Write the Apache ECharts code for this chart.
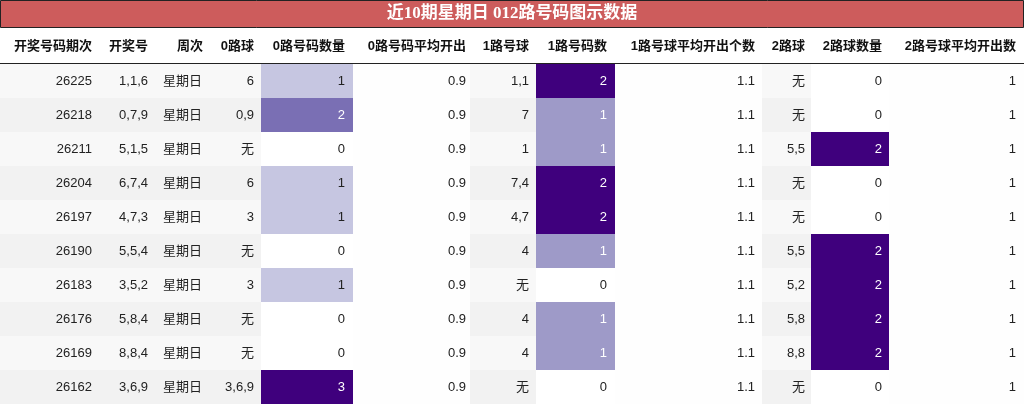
<!DOCTYPE html>
<html><head><meta charset="utf-8">
<script src="https://cdn.jsdelivr.net/npm/echarts@6/dist/echarts.min.js"></script>
<style>html,body{margin:0;padding:0;background:#fff}</style>
</head><body>
<div id="main" style="width:1024px;height:404px;"></div>
<script>
var headers = ['开奖号码期次','开奖号','周次','0路球','0路号码数量','0路号码平均开出','1路号球','1路号码数','1路号球平均开出个数','2路球','2路球数量','2路号球平均开出数'];
var issues = ['26225','26218','26211','26204','26197','26190','26183','26176','26169','26162'];
var numbers = ['1,1,6','0,7,9','5,1,5','6,7,4','4,7,3','5,5,4','3,5,2','5,8,4','8,8,4','3,6,9'];
var weekday = ['星期日','星期日','星期日','星期日','星期日','星期日','星期日','星期日','星期日','星期日'];
var zeroBalls = ['6','0,9','无','6','3','无','3','无','无','3,6,9'];
var zeroCount = [1,2,0,1,1,0,1,0,0,3];
var zeroAvg = [0.9,0.9,0.9,0.9,0.9,0.9,0.9,0.9,0.9,0.9];
var oneBalls = ['1,1','7','1','7,4','4,7','4','无','4','4','无'];
var oneCount = [2,1,1,2,2,1,0,1,1,0];
var oneAvg = [1.1,1.1,1.1,1.1,1.1,1.1,1.1,1.1,1.1,1.1];
var twoBalls = ['无','无','5,5','无','无','5,5','5,2','5,8','8,8','无'];
var twoCount = [0,0,2,0,0,2,2,2,2,0];
var twoAvg = [1,1,1,1,1,1,1,1,1,1];

// layout
var edges = [0,100,155,210,261,353,470,536,615,762,811,889,1024];
var anchors = [92,148,163,254,345,466,529,607,755,805,882,1016];
var columns = [issues, numbers, weekday, zeroBalls, zeroCount, zeroAvg, oneBalls, oneCount, oneAvg, twoBalls, twoCount, twoAvg];
var heatCols = {4: 3, 7: 2, 10: 2};
var avgCols = {5: 1, 8: 1, 11: 1};

function heatColor(t) {
    if (t <= 0) return '#ffffff';
    if (t < 0.4) return '#c6c6e1';
    if (t < 0.6) return '#9e9ac8';
    if (t < 0.8) return '#7a6fb4';
    return '#3f007d';
}

var cells = [];
for (var c = 0; c < columns.length; c++) {
    for (var r = 0; r < issues.length; r++) {
        cells.push([c, r, columns[c][r]]);
    }
}

var font = '"Liberation Sans","Noto Sans CJK SC",sans-serif';
var chart = echarts.init(document.getElementById('main'));
var graphics = [
    {type: 'rect', shape: {x: 0.5, y: 0.5, width: 1023, height: 27}, style: {fill: '#cd5c5c', stroke: '#222', lineWidth: 1}},
    {type: 'text', x: 512, y: 14, style: {text: '近10期星期日 012路号码图示数据', fill: '#fff', font: 'bold 17px "Liberation Serif","Noto Sans CJK SC",serif', textAlign: 'center', textVerticalAlign: 'middle'}},
    {type: 'line', shape: {x1: 0, y1: 63.5, x2: 1024, y2: 63.5}, style: {stroke: '#222', lineWidth: 1}}
];
headers.forEach(function (h, i) {
    graphics.push({type: 'text', x: i === 2 ? 203 : anchors[i], y: 46, style: {text: h, fill: '#111', font: 'bold 13px ' + font, textAlign: 'right', textVerticalAlign: 'middle'}});
});

chart.setOption({
    animation: false,
    grid: {left: 0, right: 0, top: 64, bottom: 0},
    xAxis: {type: 'value', min: 0, max: 1024, show: false},
    yAxis: {type: 'category', data: issues, inverse: true, show: false},
    graphic: graphics,
    series: [{
        type: 'custom',
        data: cells,
        encode: {x: 0, y: 1},
        renderItem: function (params, api) {
            var c = api.value(0), r = api.value(1);
            var raw = cells[params.dataIndex][2];
            var p0 = api.coord([edges[c], r]);
            var p1 = api.coord([edges[c + 1], r]);
            var h = api.size([0, 1])[1];
            var fill = r % 2 === 0 ? '#f8f8f8' : '#f2f2f2';
            var textColor = '#222';
            if (heatCols[c]) {
                var t = raw / heatCols[c];
                fill = heatColor(t);
                if (t >= 0.5) textColor = '#fff';
            } else if (avgCols[c]) {
                fill = '#fefefe';
            }
            return {
                type: 'group',
                children: [
                    {type: 'rect', shape: {x: p0[0], y: p0[1] - h / 2, width: p1[0] - p0[0], height: h}, style: {fill: fill}},
                    {type: 'text', x: anchors[c], y: p0[1], style: {text: String(raw), fill: textColor, font: '13px ' + font, textAlign: c === 2 ? 'left' : 'right', textVerticalAlign: 'middle'}}
                ]
            };
        }
    }]
});
</script>
</body></html>
